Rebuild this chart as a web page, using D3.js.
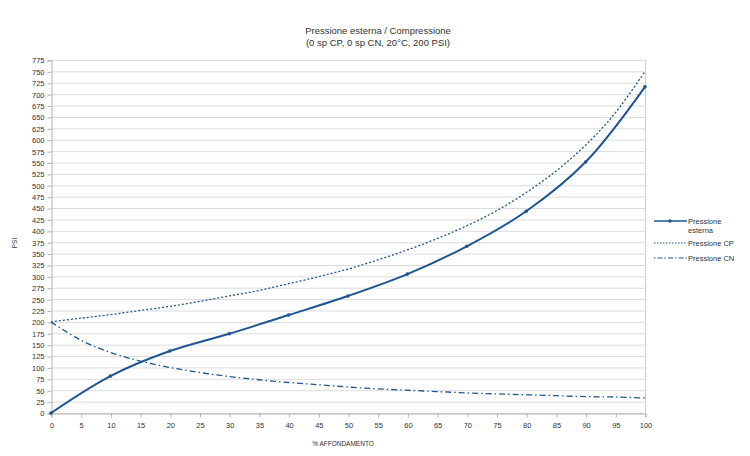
<!DOCTYPE html>
<html><head><meta charset="utf-8">
<script src="https://cdn.jsdelivr.net/npm/d3@7"></script>
<style>body{margin:0;background:#fff}svg{display:block}text{font-family:"Liberation Sans",Arial,sans-serif;fill:#333}</style>
</head><body><svg id="c" width="750" height="456"></svg>
<script>
const xEsterna = [0,10,20,30,40,50,60,70,80,90,100];
const yEsterna = [0,81,136,174,215,257,305,366,443,551,716];
const xCurve = [0,5,10,15,20,25,30,35,40,45,50,55,60,65,70,75,80,85,90,95,100];
const yCP = [200,208,216,225,234,245,257,269,284,299,316,336,358,383,411,444,484,531,588,659,750];
const yCN = [200,160,133,114,100,89,80,73,67,62,57,53,50,47,44,42,40,38,36,35,33];
const yTicks = d3.range(0,776,25);
const xTicks = d3.range(0,101,5);
const seriesNames = ["Pressione esterna","Pressione CP","Pressione CN"];

const svg = d3.select("#c");
const col = "#1d5690";
const x = d3.scaleLinear().domain([0,100]).range([51,645]);
const y = d3.scaleLinear().domain([0,775]).range([413,60]);

// grid
svg.append("g").selectAll("line").data(yTicks).join("line")
  .attr("x1",51).attr("x2",645).attr("y1",d=>y(d)+0.5).attr("y2",d=>y(d)+0.5)
  .attr("stroke","#dcdcdc").attr("stroke-width",1);
svg.append("line").attr("x1",645.5).attr("x2",645.5).attr("y1",60).attr("y2",413).attr("stroke","#cfcfcf");

// axes
const ya = svg.append("g").attr("transform","translate(51.5,0.5)")
  .call(d3.axisLeft(y).tickValues(yTicks).tickSize(4).tickPadding(3));
const xa = svg.append("g").attr("transform","translate(0.5,413.5)")
  .call(d3.axisBottom(x).tickValues(xTicks).tickSize(4).tickPadding(5));
[ya,xa].forEach(a=>{
  a.selectAll("path,line").attr("stroke","#b3b3b3");
  a.selectAll("text").style("font-size","7.5px").style("font-family","Liberation Sans,Arial,sans-serif").attr("fill","#333");
});

// lines
const lineE = d3.line().x((d,i)=>x(xEsterna[i])).y(d=>y(d)).curve(d3.curveCatmullRom.alpha(0.5));
const lineC = d3.line().x((d,i)=>x(xCurve[i])).y(d=>y(d)).curve(d3.curveCatmullRom.alpha(0.5));
svg.append("path").attr("d",lineC(yCP)).attr("fill","none").attr("stroke",col).attr("stroke-width",1.3).attr("stroke-dasharray","2,2");
svg.append("path").attr("d",lineC(yCN)).attr("fill","none").attr("stroke",col).attr("stroke-width",1.3).attr("stroke-dasharray","6,3,1.5,3");
svg.append("path").attr("d",lineE(yEsterna)).attr("fill","none").attr("stroke",col).attr("stroke-width",2);
svg.append("g").selectAll("circle").data(yEsterna).join("circle")
  .attr("cx",(d,i)=>x(xEsterna[i])).attr("cy",d=>y(d)).attr("r",1.8).attr("fill",col);

// titles
svg.append("text").attr("x",378).attr("y",34).attr("text-anchor","middle").style("font-size","9.5px").text("Pressione esterna / Compressione");
svg.append("text").attr("x",378).attr("y",46).attr("text-anchor","middle").style("font-size","9.5px").text("(0 sp CP, 0 sp CN, 20°C, 200 PSI)");
svg.append("text").attr("transform","translate(17,243) rotate(-90)").attr("text-anchor","middle").style("font-size","6.5px").text("PSI");
svg.append("text").attr("x",343).attr("y",446).attr("text-anchor","middle").style("font-size","6.5px").text("% AFFONDAMENTO");

// legend
const lg = svg.append("g");
const ly = [221,243,258];
lg.append("line").attr("x1",654).attr("x2",687).attr("y1",ly[0]).attr("y2",ly[0]).attr("stroke",col).attr("stroke-width",1.5);
lg.append("circle").attr("cx",670).attr("cy",ly[0]).attr("r",1.8).attr("fill",col);
lg.append("line").attr("x1",654).attr("x2",687).attr("y1",ly[1]).attr("y2",ly[1]).attr("stroke",col).attr("stroke-width",1.2).attr("stroke-dasharray","1.5,1.5");
lg.append("line").attr("x1",654).attr("x2",687).attr("y1",ly[2]).attr("y2",ly[2]).attr("stroke",col).attr("stroke-width",1.2).attr("stroke-dasharray","1.5,2,5,2");
lg.append("text").attr("x",688).attr("y",ly[0]+2.5).style("font-size","7.5px").text("Pressione");
lg.append("text").attr("x",688).attr("y",ly[0]+12).style("font-size","7.5px").text("esterna");
lg.append("text").attr("x",688).attr("y",ly[1]+2.5).style("font-size","7.5px").text(seriesNames[1]);
lg.append("text").attr("x",688).attr("y",ly[2]+2.5).style("font-size","7.5px").text(seriesNames[2]);
</script></body></html>
